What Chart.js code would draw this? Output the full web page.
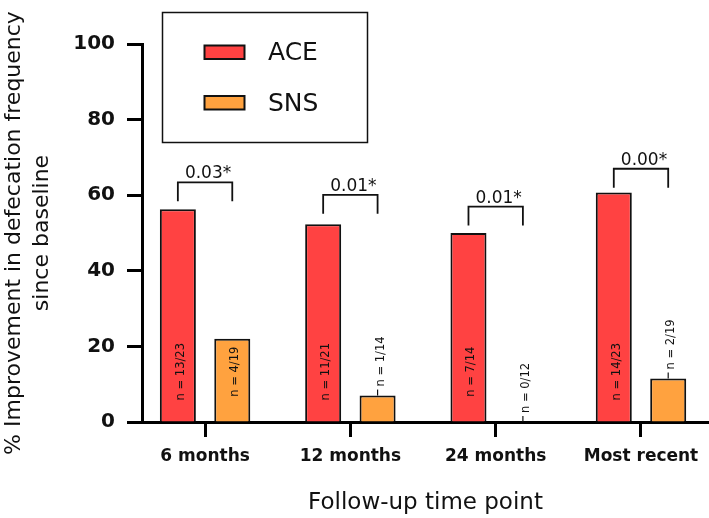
<!DOCTYPE html>
<html>
<head>
<meta charset="utf-8">
<script src="https://cdn.jsdelivr.net/npm/chart.js@4.4.0/dist/chart.umd.min.js"></script>
<style>
  html, body { margin: 0; padding: 0; background: #fff; }
  #wrap { width: 709px; height: 518px; }
</style>
</head>
<body>
<div id="wrap"><canvas id="chart" width="709" height="518"></canvas></div>
<script>
// data
const timePoints = ['6 months', '12 months', '24 months', 'Most recent'];
const aceValues = [56.3, 52.3, 50.0, 60.7];
const snsValues = [22.0, 7.0, 0, 11.5];
const aceCounts = ['13/23', '11/21', '7/14', '14/23'];
const snsCounts = ['4/19', '1/14', '0/12', '2/19'];
const pValues = ['0.03*', '0.01*', '0.01*', '0.00*'];
const yTicks = [0, 20, 40, 60, 80, 100];
// height of each significance bracket (y units)
const bracketLevels = [63.4, 60.1, 57.0, 67.0];

const FONT = "'DejaVu Sans', sans-serif";
const INK = '#111';

// n = labels, p-value brackets and the boxed legend
const annotations = {
    id: 'annotations',
    afterDraw(chart) {
        const ctx = chart.ctx;
        const y = chart.scales.y;
        const ace = chart.getDatasetMeta(0).data;
        const sns = chart.getDatasetMeta(1).data;
        const midY = y.getPixelForValue(13.3);

        ctx.save();
        ctx.fillStyle = INK;
        ctx.strokeStyle = INK;
        ctx.font = '11.5px ' + FONT;

        const drawCount = (bar, count) => {
            const text = 'n = ' + count;
            const w = ctx.measureText(text).width;
            const h = bar.base - bar.y;
            ctx.save();
            if (h > w + 16) {
                ctx.translate(bar.x + 6, midY);
                ctx.rotate(-Math.PI / 2);
                ctx.textAlign = 'center';
                ctx.textBaseline = 'alphabetic';
                ctx.fillText(text, 0, 0);
            } else {
                ctx.lineWidth = 1.2;
                ctx.beginPath();
                ctx.moveTo(bar.x, bar.y);
                ctx.lineTo(bar.x, bar.y - 6);
                ctx.stroke();
                ctx.translate(bar.x + 6, bar.y - 9);
                ctx.rotate(-Math.PI / 2);
                ctx.textAlign = 'left';
                ctx.textBaseline = 'alphabetic';
                ctx.fillText(text, 0, 0);
            }
            ctx.restore();
        };
        ace.forEach((bar, i) => drawCount(bar, aceCounts[i]));
        sns.forEach((bar, i) => drawCount(bar, snsCounts[i]));

        // brackets
        ctx.lineWidth = 1.8;
        ctx.font = '17px ' + FONT;
        ctx.textAlign = 'center';
        ctx.textBaseline = 'alphabetic';
        bracketLevels.forEach((level, i) => {
            const top = y.getPixelForValue(level);
            const x1 = ace[i].x, x2 = sns[i].x;
            ctx.beginPath();
            ctx.moveTo(x1, top + 19);
            ctx.lineTo(x1, top);
            ctx.lineTo(x2, top);
            ctx.lineTo(x2, top + 19);
            ctx.stroke();
            ctx.fillText(pValues[i], (x1 + x2) / 2 + 3, top - 4);
        });

        // legend box
        ctx.lineWidth = 1.5;
        ctx.strokeRect(162.5, 12.5, 205, 130);
        ctx.font = '25px ' + FONT;
        ctx.textAlign = 'left';
        ctx.textBaseline = 'middle';
        chart.data.datasets.forEach((ds, i) => {
            const sy = 45.5 + i * 50.5;
            ctx.fillStyle = ds.backgroundColor;
            ctx.fillRect(204.5, sy, 40, 13.5);
            ctx.lineWidth = 2;
            ctx.strokeRect(204.5, sy, 40, 13.5);
            ctx.fillStyle = INK;
            ctx.fillText(ds.label, 268, sy + 8);
        });
        ctx.restore();
    }
};

new Chart(document.getElementById('chart'), {
    type: 'bar',
    data: {
        datasets: [
            {
                label: 'ACE',
                data: aceValues.map((v, i) => ({ x: i, y: v })),
                backgroundColor: '#FF4242',
                borderColor: '#111',
                borderWidth: 2,
                categoryPercentage: 0.749,
                barPercentage: 0.662
            },
            {
                label: 'SNS',
                data: snsValues.map((v, i) => ({ x: i, y: v })),
                backgroundColor: '#FFA23F',
                borderColor: '#111',
                borderWidth: 2,
                categoryPercentage: 0.749,
                barPercentage: 0.662
            }
        ]
    },
    options: {
        responsive: false,
        animation: false,
        layout: { padding: { top: 44, right: 0, bottom: 0, left: 0 } },
        plugins: {
            legend: { display: false },
            tooltip: { enabled: false }
        },
        scales: {
            x: {
                type: 'linear',
                min: -0.434,
                max: 3.468,
                offset: false,
                z: 1,
                afterBuildTicks: (s) => { s.ticks = timePoints.map((_, i) => ({ value: i })); },
                afterFit: (s) => { s.height = 96; },
                ticks: {
                    callback: (v) => timePoints[v],
                    font: { family: FONT, size: 17, weight: 'bold' },
                    color: INK,
                    padding: 9,
                    maxRotation: 0,
                    autoSkip: false
                },
                grid: { offset: false, drawOnChartArea: false, drawTicks: true, tickLength: 15, tickWidth: 3, tickColor: '#000' },
                border: { display: true, width: 3, color: '#000' },
                title: {
                    display: true,
                    text: 'Follow-up time point',
                    font: { family: FONT, size: 23, lineHeight: 1 },
                    color: INK,
                    padding: { top: 0, bottom: 3 }
                }
            },
            y: {
                min: 0,
                max: 100,
                z: 1,
                afterBuildTicks: (s) => { s.ticks = yTicks.map(v => ({ value: v })); },
                afterFit: (s) => { s.width = 142; },
                ticks: {
                    font: { family: FONT, size: 20, weight: 'bold' },
                    color: INK,
                    padding: 12
                },
                grid: { drawOnChartArea: false, drawTicks: true, tickLength: 15, tickWidth: 3, tickColor: '#000' },
                border: { display: true, width: 3, color: '#000' },
                title: {
                    display: true,
                    text: ['% Improvement in defecation frequency', 'since baseline'],
                    font: { family: FONT, size: 22, lineHeight: '28px' },
                    color: INK,
                    padding: { top: 0, bottom: 0 }
                }
            }
        }
    },
    plugins: [annotations]
});
</script>
</body>
</html>
